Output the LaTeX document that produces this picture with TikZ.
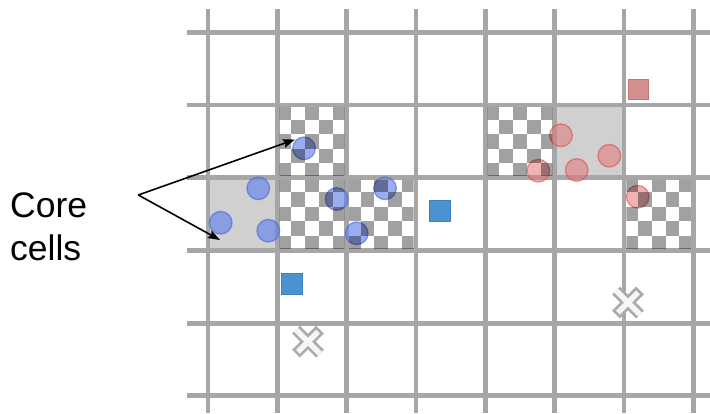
\documentclass[tikz,border=0pt]{standalone}
\usepackage{fontspec}
\setmainfont{Liberation Sans}
\usetikzlibrary{arrows.meta}
\definecolor{gridG}{RGB}{166,166,166}
\definecolor{coreG}{RGB}{208,208,208}
\definecolor{bluF}{RGB}{100,130,235}
\definecolor{bluD}{RGB}{80,105,215}
\definecolor{redF}{RGB}{228,118,118}
\definecolor{redD}{RGB}{215,70,70}
\definecolor{sqB}{RGB}{74,146,210}
\definecolor{sqBd}{RGB}{60,128,196}
\definecolor{sqR}{RGB}{212,142,142}
\definecolor{sqRd}{RGB}{190,118,118}
\definecolor{crossG}{RGB}{172,172,172}

\begin{document}
\begin{tikzpicture}[x=1pt,y=-1pt,
   gl/.style={draw=gridG,line width=4.8pt},
   core/.style={fill=coreG},
   chk/.style={fill=black,fill opacity=0.37},
   bp/.style={circle,draw=bluD,fill=bluF,line width=1.3pt,opacity=0.65,minimum size=22.6pt,inner sep=0pt},
   rp/.style={circle,draw=redD,fill=redF,line width=1.3pt,opacity=0.55,minimum size=22.6pt,inner sep=0pt},
   sb/.style={rectangle,draw=sqBd,fill=sqB,line width=1pt,minimum size=21pt,inner sep=0pt},
   sr/.style={rectangle,draw=sqRd,fill=sqR,line width=1pt,minimum size=20pt,inner sep=0pt},
   lbl/.style={inner sep=0pt,anchor=base west,font=\fontsize{35.5}{43}\selectfont},
   ptr/.style={line width=1.6pt,-{Stealth[length=12pt,width=8.5pt,inset=2pt]}}]
\useasboundingbox (0,0) rectangle (710,413);
\fill[white] (0,0) rectangle (710,413);
%% ---- core cells ----
\fill[core] (208,{32.3+72.7*2}) rectangle ++(69.33,72.7);
\fill[core] ({208+69.33*5},{32.3+72.7}) rectangle ++(69.33,72.7);
%% ---- grid ----
\foreach \k in {0,...,7} \draw[gl] ({208+69.33*\k},9.3) -- ({208+69.33*\k},413);
\foreach \k in {0,...,5} \draw[gl] (186.8,{32.3+72.7*\k}) -- (710,{32.3+72.7*\k});
%% ---- squares and crosses ----
\node[sb] (sb1) at (439.5,211) {};
\node[sb] (sb2) at (291.5,283.7) {};
\node[sr] (sr1) at (638.7,89.2) {};
\foreach \px/\py in {308/341.7,628/302.5} {
  \draw[crossG,line width=11pt] ({\px-12},{\py-12}) -- ({\px+12},{\py+12})
                                ({\px-12},{\py+12}) -- ({\px+12},{\py-12});
  \draw[gray!8,line width=5.5pt,shorten <=2.7pt,shorten >=2.7pt]
        ({\px-12},{\py-12}) -- ({\px+12},{\py+12})
        ({\px-12},{\py+12}) -- ({\px+12},{\py-12});
}
%% ---- points ----
\node[bp] (b1) at (258.3,188.3) {};
\node[bp] (b2) at (220.7,222.7) {};
\node[bp] (b3) at (268.3,230.7) {};
\node[bp] (b4) at (304,148.3) {};
\node[bp] (b5) at (336.7,199) {};
\node[bp] (b6) at (385,188.3) {};
\node[bp] (b7) at (356.7,233.3) {};
\node[rp] (r1) at (561,135.3) {};
\node[rp] (r2) at (538.3,170.7) {};
\node[rp] (r3) at (576.7,170) {};
\node[rp] (r4) at (609.3,155.7) {};
\node[rp] (r5) at (637.7,196.7) {};
%% ---- checkered border cells ----
\foreach \c/\r in {1/1,1/2,2/2,4/1,6/2} {
  \begin{scope}
    \clip ({208+69.33*\c+2.4},{32.3+72.7*\r+2.4}) rectangle ({208+69.33*(\c+1)-2.4},{32.3+72.7*(\r+1)-2.4});
    \foreach \i in {0,...,4} \foreach \j in {0,...,4} {
      \pgfmathtruncatemacro\kk{mod(\i+\j,2)}
      \ifnum\kk=0
        \fill[chk] ({208+69.33*\c+13.866*\i},{32.3+72.7*\r+14.54*\j}) rectangle ++(13.866,14.54);
      \fi
    }
  \end{scope}
}
%% ---- label ----
\node[lbl] (core) at (10,217.3) {Core};
\node[lbl] (cells) at (10,260) {cells};
\coordinate (fork) at (138.3,195);
\coordinate (tipA) at (295,139.5);
\coordinate (tipB) at (220,240);
\draw[ptr] (fork) -- (tipA);
\draw[ptr] (fork) -- (tipB);
\end{tikzpicture}
\end{document}
